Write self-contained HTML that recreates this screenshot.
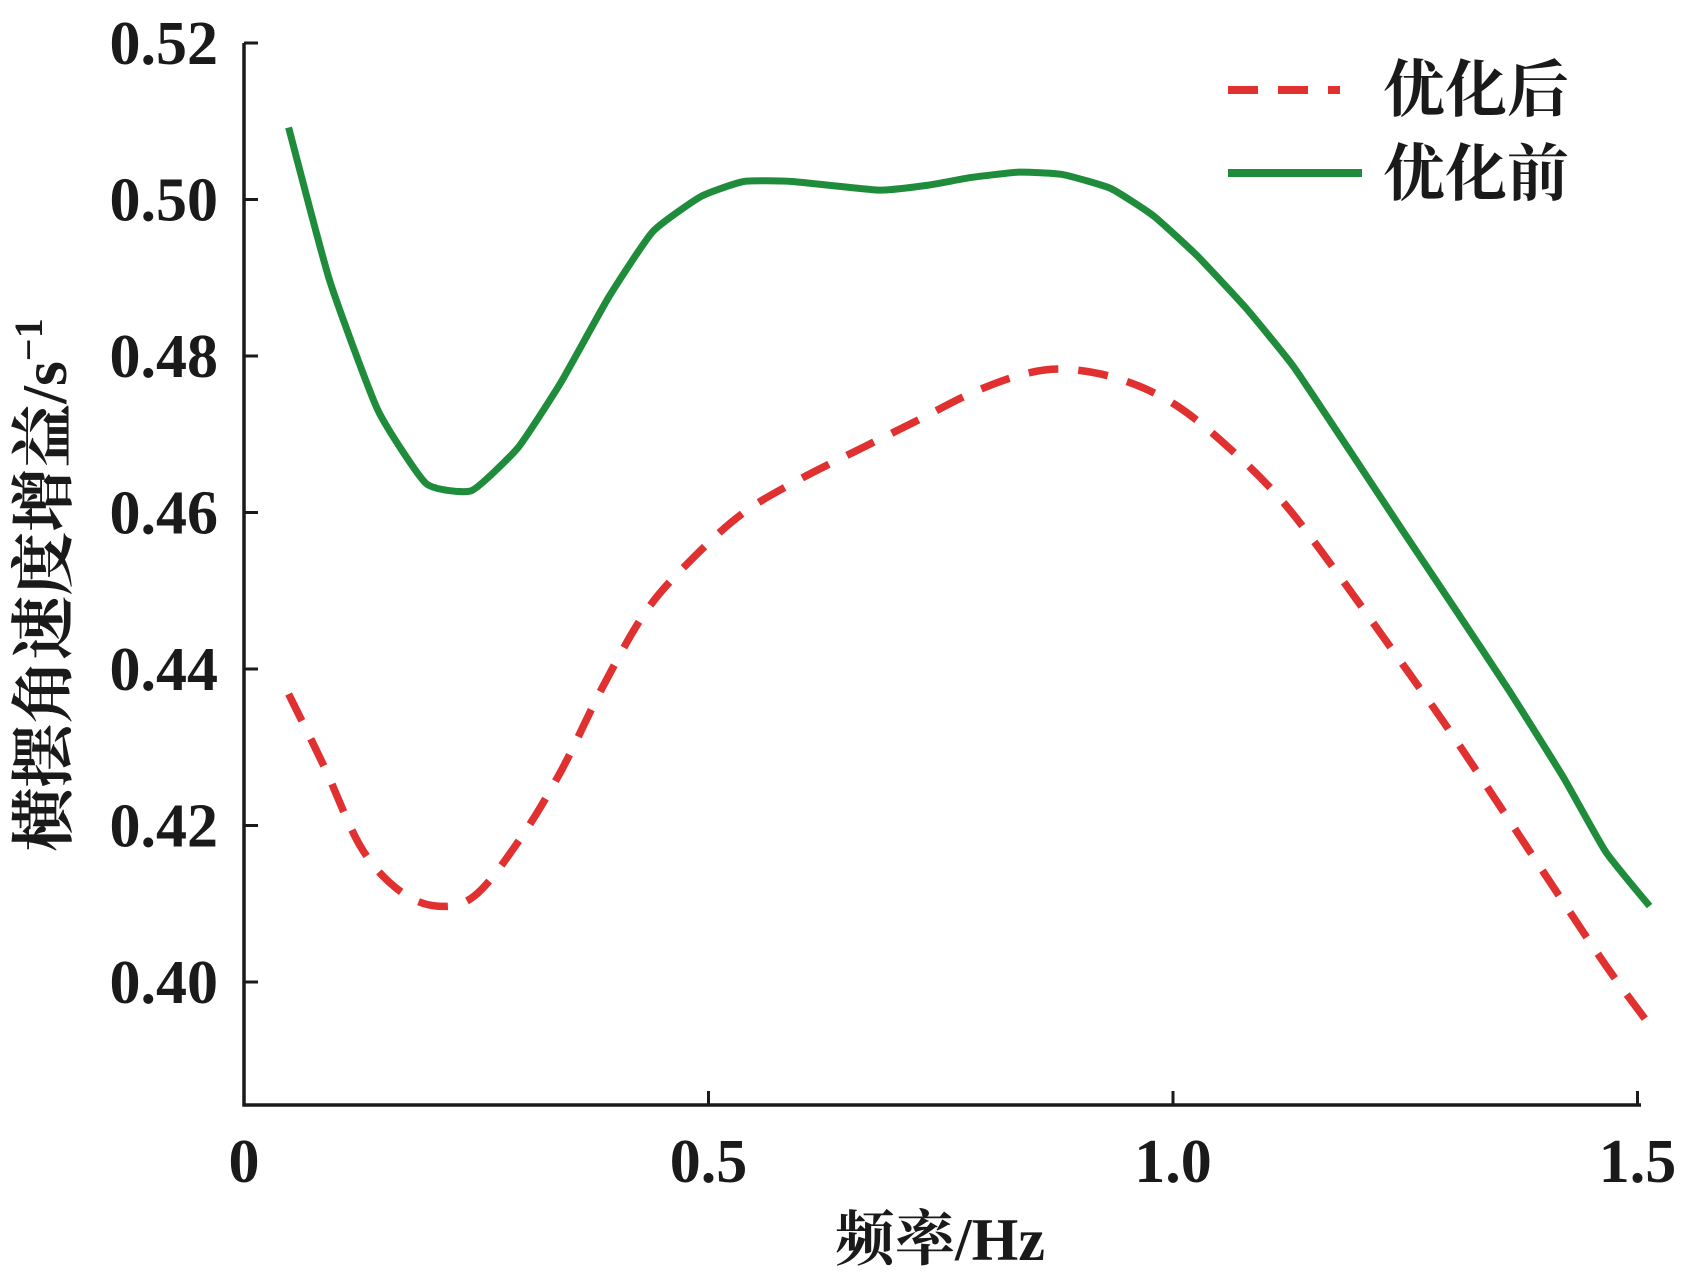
<!DOCTYPE html>
<html><head><meta charset="utf-8"><style>
html,body{margin:0;padding:0;background:#fff;width:1684px;height:1280px;overflow:hidden}
svg{display:block}
text{font-family:"Liberation Serif","Noto Serif CJK SC",serif;fill:#1a1a1a;font-weight:bold}
</style></head><body>
<svg id="chart" width="1684" height="1280" viewBox="0 0 1684 1280"></svg>
<script>
const xTicks=[0,0.5,1.0,1.5];
const xTickLabels=["0","0.5","1.0","1.5"];
const yTicks=[0.40,0.42,0.44,0.46,0.48,0.50,0.52];
const yTickLabels=["0.40","0.42","0.44","0.46","0.48","0.50","0.52"];
const greenX=[0.048,0.092,0.144,0.196,0.245,0.295,0.341,0.393,0.440,0.492,0.538,0.590,0.683,0.735,0.782,0.834,0.881,0.933,0.979,1.026,1.078,1.130,1.188,1.246,1.304,1.362,1.42,1.466,1.513];
const greenY=[0.5092,0.4897,0.4731,0.4637,0.4628,0.4683,0.4766,0.4876,0.4959,0.5004,0.5023,0.5023,0.5012,0.5018,0.5028,0.5035,0.5032,0.5014,0.4979,0.4928,0.4862,0.4786,0.4683,0.4579,0.4476,0.4372,0.4262,0.4166,0.4097];
const redX=[0.048,0.086,0.126,0.167,0.208,0.248,0.295,0.341,0.387,0.434,0.486,0.538,0.596,0.666,0.724,0.782,0.840,0.886,0.944,1.002,1.060,1.118,1.176,1.234,1.292,1.350,1.408,1.466,1.513];
const redY=[0.4368,0.4276,0.4172,0.4117,0.4097,0.4110,0.4179,0.4269,0.4379,0.4476,0.4545,0.4600,0.4641,0.4683,0.4717,0.4752,0.4777,0.4783,0.4770,0.4738,0.4683,0.4614,0.4524,0.4428,0.4331,0.4228,0.4124,0.4021,0.3945];

const NS="http://www.w3.org/2000/svg";
const svg=document.getElementById('chart');
const X0=244,X1=1641,Y0=1105;
function xScale(v){return 244+v*929/1.0;}
function yScale(v){return 43+(0.52-v)*(982-43)/0.12;}
function mk(tag,attrs){const e=document.createElementNS(NS,tag);for(const k in attrs)e.setAttribute(k,attrs[k]);svg.appendChild(e);return e;}

let e=mk('path',{d:`M${X0},43 L${X0},${Y0} L${X1},${Y0}`,fill:'none',stroke:'#1a1a1a','stroke-width':3.5});



yTicks.forEach((v,i)=>{
  const y=yScale(v);
  let t=mk('line',{x1:X0,x2:X0+14,y1:y,y2:y,stroke:'#1a1a1a','stroke-width':3});
  
  
  let l=mk('text',{x:218,y:y+21,'text-anchor':'end','font-size':62});
  l.textContent=yTickLabels[i];
  
  
});
xTicks.forEach((v,i)=>{
  const x=xScale(v);
  let t=mk('line',{x1:x,x2:x,y1:Y0,y2:Y0-14,stroke:'#1a1a1a','stroke-width':3});
  
  
  let l=mk('text',{x:x,y:1182,'text-anchor':'middle','font-size':62});
  l.textContent=xTickLabels[i];
  
  
});

function pathFrom(xa,ya,smooth){
  const p=xa.map((v,i)=>[xScale(v),yScale(ya[i])]);
  let d='M'+p[0][0].toFixed(1)+','+p[0][1].toFixed(1);
  for(let i=0;i<p.length-1;i++){
    const p0=p[Math.max(0,i-1)],p1=p[i],p2=p[i+1],p3=p[Math.min(p.length-1,i+2)];
    const c1=[p1[0]+(p2[0]-p0[0])*smooth,p1[1]+(p2[1]-p0[1])*smooth];
    const c2=[p2[0]-(p3[0]-p1[0])*smooth,p2[1]-(p3[1]-p1[1])*smooth];
    d+=` C${c1[0].toFixed(1)},${c1[1].toFixed(1)} ${c2[0].toFixed(1)},${c2[1].toFixed(1)} ${p2[0].toFixed(1)},${p2[1].toFixed(1)}`;
  }
  return d;
}
let g=mk('path',{d:pathFrom(greenX,greenY,0.08),fill:'none',stroke:'#1e8c3a','stroke-width':7,'stroke-linejoin':'round'});


let r=mk('path',{d:pathFrom(redX,redY,1/6),fill:'none',stroke:'#e03030','stroke-width':7.5,'stroke-dasharray':'30 20'});



let lr=mk('line',{x1:1228,x2:1340,y1:90,y2:90,stroke:'#e03030','stroke-width':8,'stroke-dasharray':'30 20'});


let lt=mk('text',{x:1383,y:111,'font-size':62});lt.textContent='优化后';


let lg=mk('line',{x1:1228,x2:1362,y1:173,y2:173,stroke:'#1e8c3a','stroke-width':8});


let lt2=mk('text',{x:1383,y:195,'font-size':62});lt2.textContent='优化前';



let xl=mk('text',{x:940,y:1260,'text-anchor':'middle','font-size':60});xl.textContent='频率/Hz';


let yl=mk('text',{x:0,y:0,'text-anchor':'middle','font-size':64,transform:'translate(66,585) rotate(-90)'});
yl.innerHTML='横摆角速度增益/s<tspan dy="-24" font-size="40">−1</tspan>';


</script>
</body></html>
